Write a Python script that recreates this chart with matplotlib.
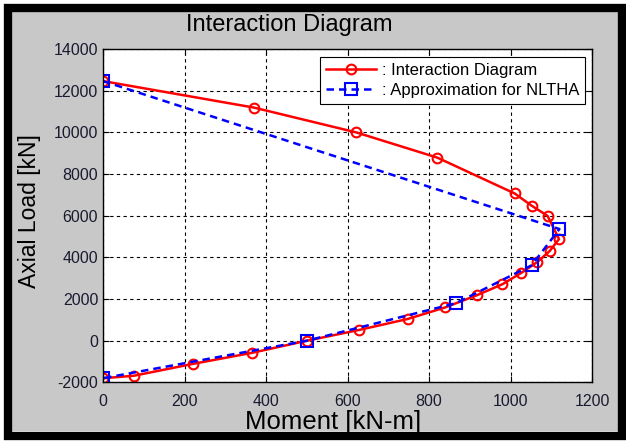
import matplotlib
matplotlib.use("Agg")
import matplotlib.pyplot as plt
from matplotlib.patches import Rectangle

plt.rcParams["font.family"] = ["Liberation Sans", "DejaVu Sans"]
plt.rcParams["axes.unicode_minus"] = False

# interaction diagram (moment kN-m, axial load kN)
id_moment = [0, 370, 621, 820, 1010, 1052, 1091, 1119, 1096, 1066, 1026, 980, 917, 840,
             748, 628, 500, 366, 221, 76, 0]
id_axial = [12460, 11190, 10000, 8790, 7070, 6480, 5990, 4880, 4300, 3780, 3250, 2710,
            2180, 1600, 1045, 515, 0, -580, -1110, -1680, -1800]

# approximation for NLTHA
ap_moment = [0, 1120, 1052, 866, 500, 0]
ap_axial = [12460, 5360, 3620, 1800, 0, -1800]

W, H = 626, 445
fig = plt.figure(figsize=(W / 100, H / 100), dpi=100)
fig.patch.set_facecolor("white")

# gray panel with black frame
fig.patches.append(Rectangle((12 / W, 1 - 431 / H), 606 / W, 419 / H,
                             transform=fig.transFigure, facecolor="#c8c8c8",
                             edgecolor="none", zorder=-2))
fig.patches.append(Rectangle((8 / W, 1 - 436 / H), 614 / W, 428 / H,
                             transform=fig.transFigure, facecolor="none",
                             edgecolor="black", linewidth=6, zorder=-1))

ax = fig.add_axes([103 / W, 1 - 382.4 / H, 489 / W, 333.4 / H])
ax.set_facecolor("white")

ax.plot(id_moment, id_axial, "-o", color="red", lw=1.8, ms=7, mfc="none", mew=1.5,
        label=": Interaction Diagram")
ax.plot(ap_moment, ap_axial, "--s", color="blue", lw=1.8, ms=8, mfc="none", mew=1.5,
        dashes=(3, 2), label=": Approximation for NLTHA")

ax.set_xlim(0, 1200)
ax.set_ylim(-2000, 14000)
ax.set_xticks(range(0, 1201, 200))
ax.set_yticks(range(-2000, 14001, 2000))
ax.grid(True, color="black", linestyle=(0, (3, 3)), linewidth=0.8)
ax.tick_params(direction="in", top=True, right=True, labelsize=11.5,
               labelcolor="#1a1a30", length=4)
ax.tick_params(axis="x", pad=8)
for s in ax.spines.values():
    s.set_linewidth(1.0)

fig.text(289 / W, 1 - 25 / H, "Interaction Diagram", fontsize=17,
         ha="center", va="center")
fig.text(333 / W, 1 - 422 / H, "Moment [kN-m]", fontsize=18.5,
         ha="center", va="center")
fig.text(30 / W, 1 - 211 / H, "Axial Load [kN]", fontsize=16.5,
         ha="center", va="center", rotation=90)

leg = ax.legend(loc="upper right", bbox_to_anchor=(0.9857, 0.976), borderaxespad=0,
                fontsize=12, fancybox=False, framealpha=1, edgecolor="black",
                handlelength=3, handletextpad=0.35, borderpad=0.35, labelspacing=0.3)
leg.get_frame().set_linewidth(0.8)

fig.savefig("out.png", dpi=100, facecolor=fig.get_facecolor())
